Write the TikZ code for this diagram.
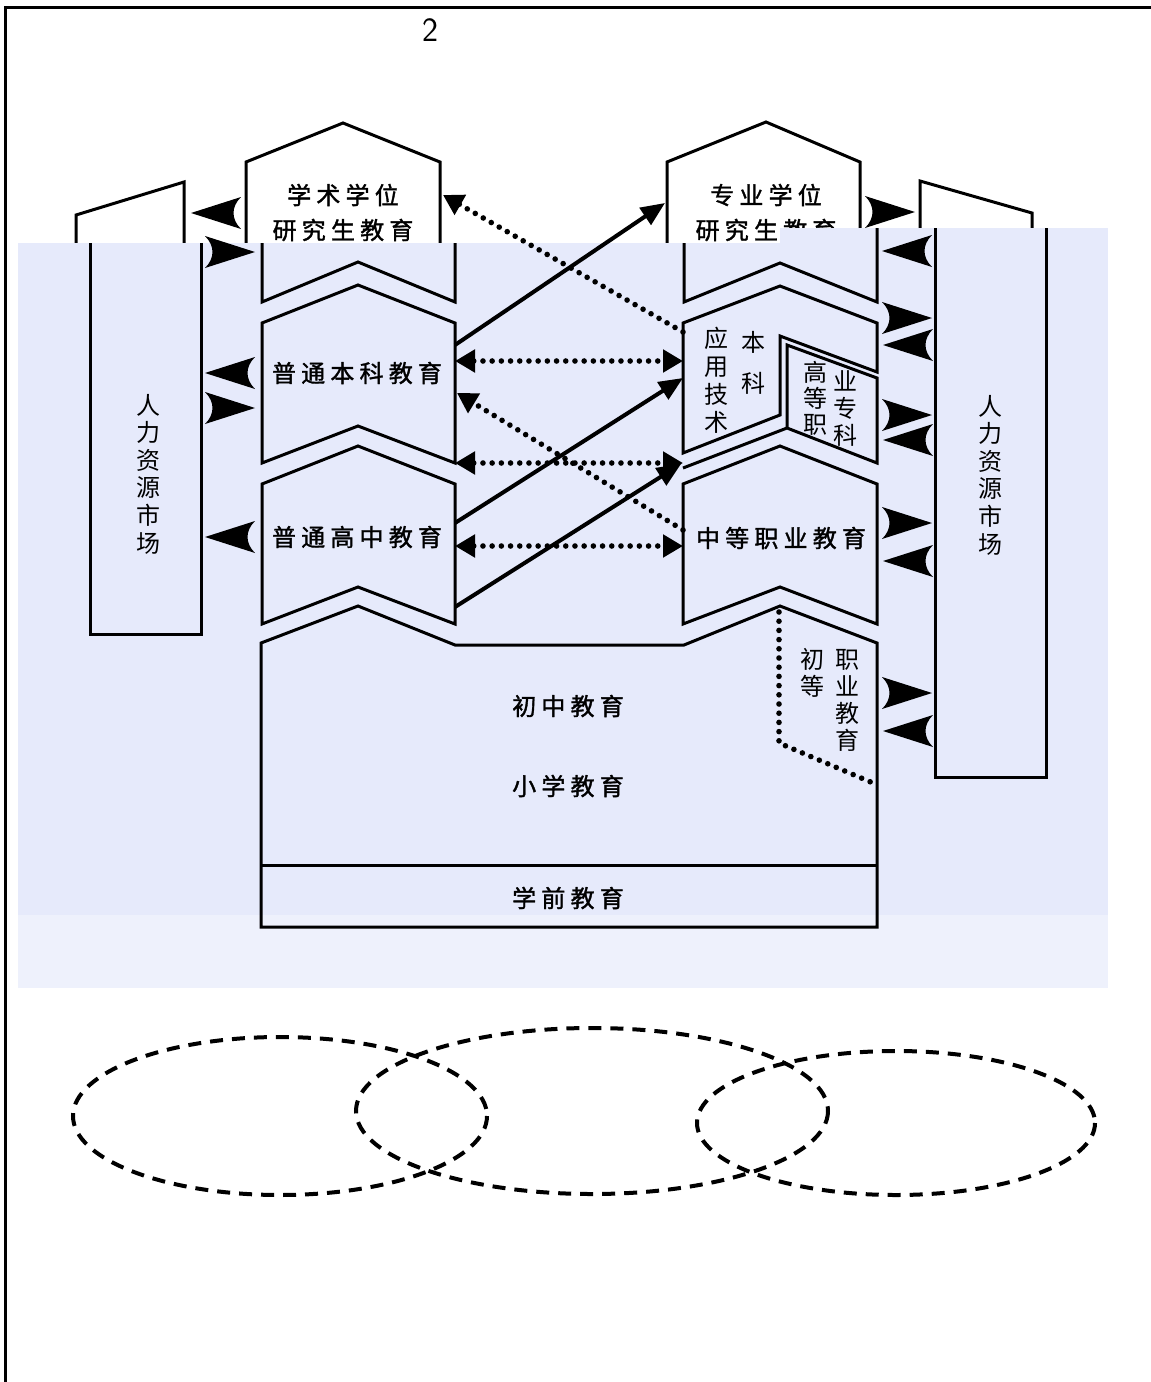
\documentclass[tikz,border=0pt]{standalone}
\usepackage{fontspec}
\newfontfamily\cjk{Noto Sans CJK SC}
\newfontfamily\cjkm[FakeBold=1.4]{Noto Sans CJK SC}
\usetikzlibrary{arrows.meta}
\definecolor{bgblue}{RGB}{230,234,251}
\definecolor{bglight}{RGB}{238,241,252}

\makeatletter
\newcommand\spaced[1]{\@tfor\ch:=#1\do{\ch\kern2.6pt}\unkern}
\makeatother

\tikzset{
  edu/.style={draw, line width=1.5pt, line join=miter},
  lbl/.style={font={\cjkm\fontsize{12}{14}\selectfont}, inner sep=0pt},
  vtext/.style={font={\cjk\fontsize{12}{#1}\selectfont}, align=center, inner sep=0pt},
  flow/.style={line width=2pt, -{Triangle[length=12pt,width=10pt]}},
  link/.style={line width=2.8pt, line cap=round, dash pattern=on 0pt off 4.6pt},
  ltip/.style={-{Triangle[length=10pt,width=11pt]}},
  btip/.style={{Triangle[length=10pt,width=11pt]}-{Triangle[length=10pt,width=11pt]}},
  ring/.style={line width=2pt, dash pattern=on 6.5pt off 4.5pt},
  kite/.pic={\fill (0,0) -- (-50,-16) .. controls (-40,-6) and (-40,6) .. (-50,16) -- cycle;}
}

\begin{document}
\begin{tikzpicture}[x=0.5pt,y=-0.5pt]
\useasboundingbox (0,0) rectangle (1151,1382);

% frame and page number
\draw[line width=1.5pt] (5,1382) -- (5,7) -- (1151,7);
\node[font=\sffamily\fontsize{17}{20}\selectfont] (pagenum) at (430,30) {2};

% upper (white) part
\draw[edu] (76,243) -- (76,215) -- (184,182) -- (184,243);
\draw[edu] (920,228) -- (920,181) -- (1032,213) -- (1032,228);
\draw[edu] (246,243) -- (246,162) -- (343,123) -- (440,162) -- (440,243);
\draw[edu] (667,243) -- (667,162) -- (766,122) -- (860,162) -- (860,228);
\node[lbl] (xs1) at (343,195) {\spaced{学术学位}};
\node[lbl] (xs2) at (343,230) {\spaced{研究生教育}};
\node[lbl] (zy1) at (766,195) {\spaced{专业学位}};
\node[lbl] (zy2) at (766,230) {\spaced{研究生教育}};

% background
\fill[bgblue] (18,243) rectangle (1108,915);
\fill[bgblue] (780,228) rectangle (1108,243);
\fill[bglight] (18,915) rectangle (1108,988);

% human resource markets
\draw[edu] (90,243) -- (90,634) -- (201,634) -- (201,243);
\draw[edu] (935,228) -- (935,777) -- (1046,777) -- (1046,228);
\node[vtext=13.8pt] (hrl) at (148,474) {人\\力\\资\\源\\市\\场};
\node[vtext=13.8pt] (hrr) at (990,475) {人\\力\\资\\源\\市\\场};

% graduate boxes, lower part
\draw[edu] (262,243) -- (262,302) -- (358,262) -- (455,302) -- (455,243);
\draw[edu] (684,243) -- (684,302) -- (780,263) -- (877,302) -- (877,228);

% general track
\draw[edu] (262,323) -- (358,285) -- (455,323) -- (455,463) -- (358,426) -- (262,463) -- cycle;
\draw[edu] (262,484) -- (358,446) -- (455,484) -- (455,624) -- (358,587) -- (262,624) -- cycle;
\node[lbl] (bk) at (357,373) {\spaced{普通本科教育}};
\node[lbl] (gz) at (357,537) {\spaced{普通高中教育}};

% vocational track
\draw[edu] (683,323) -- (780,286) -- (877,323) -- (877,372) -- (780,336) -- (780,415) -- (683,453) -- cycle;
\draw[edu] (683,468) -- (787,428) -- (787,345) -- (877,378) -- (877,463) -- (787,428);
\draw[edu] (683,484) -- (780,446) -- (877,484) -- (877,624) -- (780,587) -- (683,624) -- cycle;
\node[vtext=14pt] (yy) at (716,380) {应\\用\\技\\术};
\node[vtext=20.5pt] (yybk) at (753,363) {本\\科};
\node[vtext=13pt] (gzz1) at (815,398) {高\\等\\职};
\node[vtext=13.5pt] (gzz2) at (845,408) {业\\专\\科};
\node[lbl] (zz) at (781,538) {\spaced{中等职业教育}};

% compulsory and pre-school
\draw[edu] (261,927) -- (261,643) -- (358,606) -- (455,645) -- (684,645) -- (780,606) -- (877,643) -- (877,927) -- cycle;
\draw[edu] (261,865) -- (877,865);
\draw[link] (779,612) -- (779,743) -- (873,783);
\node[lbl] (cz) at (568,706) {\spaced{初中教育}};
\node[lbl] (xx) at (568,786) {\spaced{小学教育}};
\node[lbl] (xq) at (568,898) {\spaced{学前教育}};
\node[vtext=13.5pt] (cd) at (812,673) {初\\等};
\node[vtext=13.5pt] (zyjy) at (847,700) {职\\业\\教\\育};

% connectors between the tracks
\coordinate (bk-a) at (455,345);  \coordinate (zy-a) at (665,203);
\coordinate (yy-a) at (683,332);  \coordinate (xs-a) at (443,195);
\coordinate (bk-b) at (455,361);  \coordinate (yy-b) at (683,361);
\coordinate (gz-a) at (455,523);  \coordinate (yy-c) at (683,378);
\coordinate (bk-c) at (455,463);  \coordinate (gzz-a) at (683,463);
\coordinate (zz-a) at (683,530);  \coordinate (bk-d) at (457,393);
\coordinate (gz-b) at (455,607);  \coordinate (gzz-b) at (681,464);
\coordinate (gz-c) at (455,546);  \coordinate (zz-b) at (683,546);

\draw[flow] (bk-a) -- (zy-a);
\draw[flow] (gz-a) -- (yy-c);
\draw[flow] (gz-b) -- (gzz-b);
\draw[link,ltip] (yy-a) -- (xs-a);
\draw[link,ltip] (zz-a) -- (bk-d);
\draw[link,btip] (bk-b) -- (yy-b);
\draw[link,btip] (bk-c) -- (gzz-a);
\draw[link,btip] (gz-c) -- (zz-b);

% exchange with the markets
\foreach \x/\y in {255/252, 255/408, 915/212, 932/318, 932/415, 932/523, 932/693}
  \pic at (\x,\y) {kite};
\foreach \x/\y in {191/213, 205/373, 205/537, 882/251, 883/345, 883/440, 883/561, 883/731}
  \pic[rotate=180] at (\x,\y) {kite};

% overlapping sets
\draw[ring] (280,1116) ellipse [x radius=207, y radius=79];
\draw[ring] (592,1111) ellipse [x radius=236, y radius=83];
\draw[ring] (896,1123) ellipse [x radius=199, y radius=72];
\end{tikzpicture}
\end{document}
